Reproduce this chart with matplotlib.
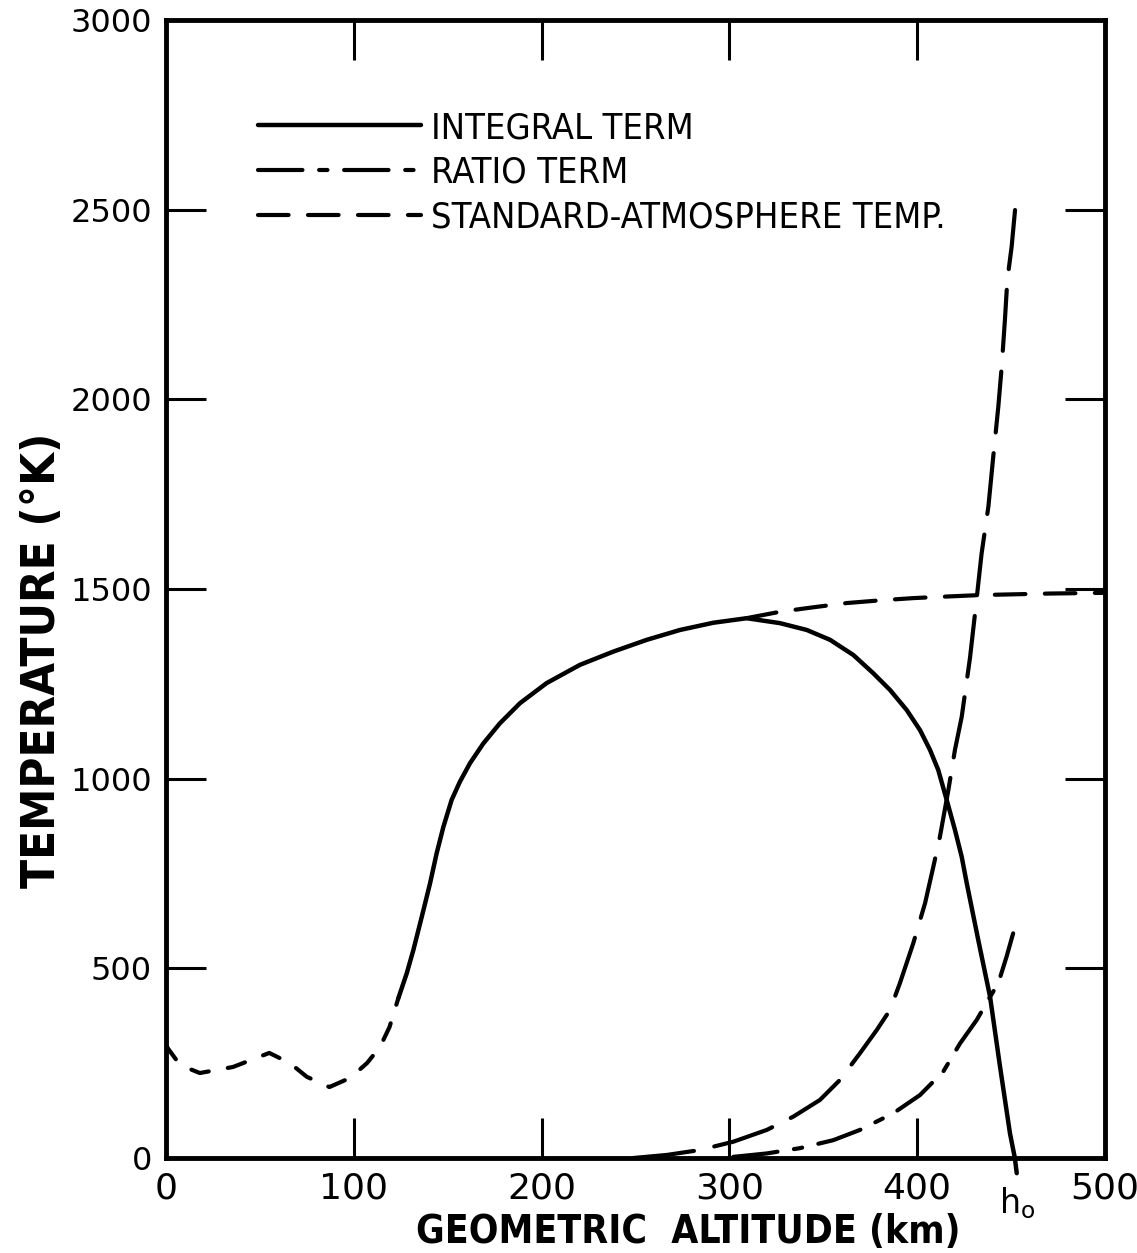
import matplotlib
matplotlib.use("Agg")
import matplotlib.pyplot as plt

# standard atmosphere, lower part (dashed, before it joins the integral term)
std_low_alt = [0, 1, 7.5, 18, 35.7, 55, 66, 75, 87, 98, 107, 114, 119, 123.7]
std_low_temp = [300, 289, 245, 224, 240, 277, 250, 214, 187, 211, 250, 293, 345, 421]

# standard atmosphere, upper part (dashed, after the peak)
std_high_alt = [309, 327, 345, 362.6, 380, 398, 415, 433.5, 470, 501]
std_high_temp = [1423, 1440, 1452, 1463, 1470, 1476, 1480, 1484, 1488, 1490]

# integral term (solid)
integral_alt = [123.7, 128.2, 131.7, 136.2, 140.6, 144.1, 147.7, 152.1, 156.5, 161.9,
                169.0, 177.8, 188.5, 202.7, 220.4, 238.2, 256.0, 273.7, 291.4, 309.2,
                326.9, 341.2, 353.6, 366, 376.6, 385.5, 394.4, 401.5, 406.8, 411.2,
                415.7, 420.1, 423.7, 426.4, 432.5, 438.8, 444.1, 449.4, 452, 453]
integral_temp = [421, 487, 548, 636, 724, 803, 873, 944, 992, 1041,
                 1093, 1146, 1199, 1252, 1300, 1335, 1366, 1392, 1411, 1423,
                 1410, 1392, 1366, 1326, 1278, 1234, 1181, 1128, 1076, 1023,
                 944, 865, 794, 724, 575, 425, 241, 65, 0, -40]

# ratio term (long-short dashes)
ratio_alt = [302.1, 319.9, 337.6, 355.3, 369.5, 387.3, 401.5, 413.9, 422.8, 431.7,
             438.8, 443.2, 447.6, 452.1]
ratio_temp = [3, 12, 26, 47, 74, 118, 166, 228, 302, 364,
              425, 461, 531, 610]

# steep long-dashed curve
steep_alt = [248.8, 266.6, 284.3, 302.1, 319.9, 334.0, 348.2, 358.9, 369.5, 378.4,
             385.5, 390.8, 397.9, 404.2, 408.6, 412.1, 416.6, 420.1, 423.7, 428.1,
             430.8, 434.3, 437.9, 440.5, 443.2, 445.0, 446.7, 448.0, 450.3, 452.1]
steep_temp = [0, 8, 21, 43, 74, 109, 153, 206, 276, 337,
              390, 461, 566, 672, 768, 847, 970, 1076, 1163, 1318,
              1436, 1594, 1717, 1849, 1981, 2086, 2209, 2315, 2403, 2499]

x_ticks = [0, 100, 200, 300, 400, 500]
y_ticks = [0, 500, 1000, 1500, 2000, 2500, 3000]

plt.rcParams["lines.scale_dashes"] = False
plt.rcParams["font.family"] = ["DejaVu Sans"]

fig = plt.figure(figsize=(11.37, 12.53), dpi=100)
ax = fig.add_axes([166 / 1137, 1 - 1158 / 1253, 939 / 1137, 1138 / 1253])

lw = 3.0
ax.plot(std_low_alt, std_low_temp, color="black", lw=lw, dashes=(13, 14),
        dash_capstyle="round")
std_line, = ax.plot(std_high_alt, std_high_temp, color="black", lw=lw, dashes=(22, 14),
                    dash_capstyle="round", label="STANDARD-ATMOSPHERE TEMP.")
ax.plot(steep_alt, steep_temp, color="black", lw=lw, dashes=(44, 15),
        dash_capstyle="round")
ratio_line, = ax.plot(ratio_alt, ratio_temp, color="black", lw=lw, dashes=(32, 12, 6, 12),
                      dash_capstyle="round", label="RATIO TERM")
int_line, = ax.plot(integral_alt, integral_temp, color="black", lw=3.2,
                    solid_capstyle="round", label="INTEGRAL TERM", clip_on=False)

ax.set_xlim(0, 500)
ax.set_ylim(0, 3000)
ax.set_xticks(x_ticks)
ax.set_yticks(y_ticks)
ax.set_xticklabels([str(v) for v in x_ticks], fontsize=26)
ax.set_yticklabels([str(v) for v in y_ticks], fontsize=23)
ax.tick_params(direction="in", length=29, width=2.2, top=True, right=True, color="black")
ax.tick_params(axis="x", pad=10)
ax.tick_params(axis="y", pad=10)
for s in ax.spines.values():
    s.set_linewidth(3.5)

# h0 marker below the axis
ax.annotate("h$_\\mathrm{o}$", xy=(451, 0), xytext=(3, -20), textcoords="offset points",
            ha="center", va="top", fontsize=24, annotation_clip=False)

ax.set_xlabel("GEOMETRIC  ALTITUDE (km)", fontsize=28, fontweight="bold",
              fontstretch="condensed")
ax.xaxis.set_label_coords(0.556, -0.048)
ax.set_ylabel("TEMPERATURE (°K)", fontsize=34, fontweight="bold",
              fontstretch="condensed")
ax.yaxis.set_label_coords(-0.108, 0.437)

leg = ax.legend(handles=[int_line, ratio_line, std_line], loc="upper left",
                bbox_to_anchor=(0.098, 0.92), frameon=False, handlelength=4.5,
                handletextpad=0.28, labelspacing=0.3, borderpad=0, borderaxespad=0,
                prop={"size": 26, "stretch": "condensed"})

fig.savefig("out.png", dpi=100)
